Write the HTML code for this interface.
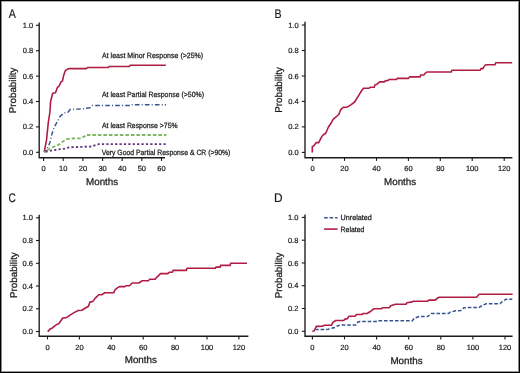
<!DOCTYPE html>
<html><head><meta charset="utf-8"><title>Figure</title>
<style>
html,body{margin:0;padding:0;background:#fff;}
body{width:520px;height:373px;overflow:hidden;}
.frame{position:absolute;left:0;top:0;width:518px;height:371px;border:1px solid #000;box-shadow:inset 1px 0 0 #888, inset 0 1px 0 #b0b0b0, inset -1px 0 0 #888, inset 0 -1px 0 #999;}
svg{position:absolute;left:0;top:0;will-change:transform;}
text{font-family:"Liberation Sans",sans-serif;fill:#1a1a1a;text-rendering:geometricPrecision;}
.tk{font-size:7.5px;stroke:#1a1a1a;stroke-width:0.2px;}
.lab{font-size:9.8px;stroke:#1a1a1a;stroke-width:0.25px;}
.leg{font-size:7.6px;stroke:#1a1a1a;stroke-width:0.25px;}
.let{font-size:12.5px;stroke:#1a1a1a;stroke-width:0.2px;}
</style></head>
<body><div class="frame"></div>
<svg width="520" height="373" viewBox="0 0 520 373">
<path d="M39.2,22.6 L39.2,157.7 L165,157.7" fill="none" stroke="#1a1a1a" stroke-width="1.35"/>
<path d="M36.0,152.3 L39.2,152.3" stroke="#1a1a1a" stroke-width="1.1"/>
<text x="33.2" y="154.8" class="tk" text-anchor="end">0.0</text>
<path d="M36.0,126.9 L39.2,126.9" stroke="#1a1a1a" stroke-width="1.1"/>
<text x="33.2" y="129.4" class="tk" text-anchor="end">0.2</text>
<path d="M36.0,101.5 L39.2,101.5" stroke="#1a1a1a" stroke-width="1.1"/>
<text x="33.2" y="104.0" class="tk" text-anchor="end">0.4</text>
<path d="M36.0,76.1 L39.2,76.1" stroke="#1a1a1a" stroke-width="1.1"/>
<text x="33.2" y="78.6" class="tk" text-anchor="end">0.6</text>
<path d="M36.0,50.7 L39.2,50.7" stroke="#1a1a1a" stroke-width="1.1"/>
<text x="33.2" y="53.2" class="tk" text-anchor="end">0.8</text>
<path d="M36.0,25.3 L39.2,25.3" stroke="#1a1a1a" stroke-width="1.1"/>
<text x="33.2" y="27.8" class="tk" text-anchor="end">1.0</text>
<path d="M43.6,157.7 L43.6,160.9" stroke="#1a1a1a" stroke-width="1.1"/>
<text x="43.6" y="171.0" class="tk" text-anchor="middle">0</text>
<path d="M63.2,157.7 L63.2,160.9" stroke="#1a1a1a" stroke-width="1.1"/>
<text x="63.2" y="171.0" class="tk" text-anchor="middle">10</text>
<path d="M82.9,157.7 L82.9,160.9" stroke="#1a1a1a" stroke-width="1.1"/>
<text x="82.9" y="171.0" class="tk" text-anchor="middle">20</text>
<path d="M102.6,157.7 L102.6,160.9" stroke="#1a1a1a" stroke-width="1.1"/>
<text x="102.6" y="171.0" class="tk" text-anchor="middle">30</text>
<path d="M122.2,157.7 L122.2,160.9" stroke="#1a1a1a" stroke-width="1.1"/>
<text x="122.2" y="171.0" class="tk" text-anchor="middle">40</text>
<path d="M141.8,157.7 L141.8,160.9" stroke="#1a1a1a" stroke-width="1.1"/>
<text x="141.8" y="171.0" class="tk" text-anchor="middle">50</text>
<path d="M161.5,157.7 L161.5,160.9" stroke="#1a1a1a" stroke-width="1.1"/>
<text x="161.5" y="171.0" class="tk" text-anchor="middle">60</text>
<text x="102.1" y="184.9" class="lab" text-anchor="middle">Months</text>
<text transform="translate(16.3,90.4) rotate(-90)" class="lab" text-anchor="middle">Probability</text>
<text transform="translate(8.8,18.2) scale(0.85,1)" class="let">A</text>
<path d="M305.0,21.7 L305.0,157.7 L512.4,157.7" fill="none" stroke="#1a1a1a" stroke-width="1.35"/>
<path d="M301.8,152.4 L305.0,152.4" stroke="#1a1a1a" stroke-width="1.1"/>
<text x="298.6" y="154.9" class="tk" text-anchor="end">0.0</text>
<path d="M301.8,126.9 L305.0,126.9" stroke="#1a1a1a" stroke-width="1.1"/>
<text x="298.6" y="129.4" class="tk" text-anchor="end">0.2</text>
<path d="M301.8,101.4 L305.0,101.4" stroke="#1a1a1a" stroke-width="1.1"/>
<text x="298.6" y="103.9" class="tk" text-anchor="end">0.4</text>
<path d="M301.8,76.0 L305.0,76.0" stroke="#1a1a1a" stroke-width="1.1"/>
<text x="298.6" y="78.5" class="tk" text-anchor="end">0.6</text>
<path d="M301.8,50.5 L305.0,50.5" stroke="#1a1a1a" stroke-width="1.1"/>
<text x="298.6" y="53.0" class="tk" text-anchor="end">0.8</text>
<path d="M301.8,25.0 L305.0,25.0" stroke="#1a1a1a" stroke-width="1.1"/>
<text x="298.6" y="27.5" class="tk" text-anchor="end">1.0</text>
<path d="M312.6,157.7 L312.6,160.9" stroke="#1a1a1a" stroke-width="1.1"/>
<text x="312.6" y="171.0" class="tk" text-anchor="middle">0</text>
<path d="M344.5,157.7 L344.5,160.9" stroke="#1a1a1a" stroke-width="1.1"/>
<text x="344.5" y="171.0" class="tk" text-anchor="middle">20</text>
<path d="M376.5,157.7 L376.5,160.9" stroke="#1a1a1a" stroke-width="1.1"/>
<text x="376.5" y="171.0" class="tk" text-anchor="middle">40</text>
<path d="M408.4,157.7 L408.4,160.9" stroke="#1a1a1a" stroke-width="1.1"/>
<text x="408.4" y="171.0" class="tk" text-anchor="middle">60</text>
<path d="M440.3,157.7 L440.3,160.9" stroke="#1a1a1a" stroke-width="1.1"/>
<text x="440.3" y="171.0" class="tk" text-anchor="middle">80</text>
<path d="M472.2,157.7 L472.2,160.9" stroke="#1a1a1a" stroke-width="1.1"/>
<text x="472.2" y="171.0" class="tk" text-anchor="middle">100</text>
<path d="M504.2,157.7 L504.2,160.9" stroke="#1a1a1a" stroke-width="1.1"/>
<text x="504.2" y="171.0" class="tk" text-anchor="middle">120</text>
<text x="400.1" y="184.7" class="lab" text-anchor="middle">Months</text>
<text transform="translate(282.2,89.9) rotate(-90)" class="lab" text-anchor="middle">Probability</text>
<text transform="translate(274.5,18.0) scale(0.85,1)" class="let">B</text>
<path d="M39.2,214.7 L39.2,336.2 L248.4,336.2" fill="none" stroke="#1a1a1a" stroke-width="1.35"/>
<path d="M36.0,331.5 L39.2,331.5" stroke="#1a1a1a" stroke-width="1.1"/>
<text x="33.0" y="334.0" class="tk" text-anchor="end">0.0</text>
<path d="M36.0,308.8 L39.2,308.8" stroke="#1a1a1a" stroke-width="1.1"/>
<text x="33.0" y="311.3" class="tk" text-anchor="end">0.2</text>
<path d="M36.0,286.0 L39.2,286.0" stroke="#1a1a1a" stroke-width="1.1"/>
<text x="33.0" y="288.5" class="tk" text-anchor="end">0.4</text>
<path d="M36.0,263.3 L39.2,263.3" stroke="#1a1a1a" stroke-width="1.1"/>
<text x="33.0" y="265.8" class="tk" text-anchor="end">0.6</text>
<path d="M36.0,240.5 L39.2,240.5" stroke="#1a1a1a" stroke-width="1.1"/>
<text x="33.0" y="243.0" class="tk" text-anchor="end">0.8</text>
<path d="M36.0,217.8 L39.2,217.8" stroke="#1a1a1a" stroke-width="1.1"/>
<text x="33.0" y="220.3" class="tk" text-anchor="end">1.0</text>
<path d="M47.5,336.2 L47.5,339.4" stroke="#1a1a1a" stroke-width="1.1"/>
<text x="47.5" y="349.6" class="tk" text-anchor="middle">0</text>
<path d="M79.4,336.2 L79.4,339.4" stroke="#1a1a1a" stroke-width="1.1"/>
<text x="79.4" y="349.6" class="tk" text-anchor="middle">20</text>
<path d="M111.3,336.2 L111.3,339.4" stroke="#1a1a1a" stroke-width="1.1"/>
<text x="111.3" y="349.6" class="tk" text-anchor="middle">40</text>
<path d="M143.2,336.2 L143.2,339.4" stroke="#1a1a1a" stroke-width="1.1"/>
<text x="143.2" y="349.6" class="tk" text-anchor="middle">60</text>
<path d="M175.1,336.2 L175.1,339.4" stroke="#1a1a1a" stroke-width="1.1"/>
<text x="175.1" y="349.6" class="tk" text-anchor="middle">80</text>
<path d="M207.0,336.2 L207.0,339.4" stroke="#1a1a1a" stroke-width="1.1"/>
<text x="207.0" y="349.6" class="tk" text-anchor="middle">100</text>
<path d="M238.9,336.2 L238.9,339.4" stroke="#1a1a1a" stroke-width="1.1"/>
<text x="238.9" y="349.6" class="tk" text-anchor="middle">120</text>
<text x="140.8" y="363.2" class="lab" text-anchor="middle">Months</text>
<text transform="translate(16.8,275.1) rotate(-90)" class="lab" text-anchor="middle">Probability</text>
<text transform="translate(8.4,201.6) scale(0.81,1)" class="let">C</text>
<path d="M305.0,214.6 L305.0,336.2 L512.6,336.2" fill="none" stroke="#1a1a1a" stroke-width="1.35"/>
<path d="M301.8,331.3 L305.0,331.3" stroke="#1a1a1a" stroke-width="1.1"/>
<text x="298.4" y="333.8" class="tk" text-anchor="end">0.0</text>
<path d="M301.8,308.5 L305.0,308.5" stroke="#1a1a1a" stroke-width="1.1"/>
<text x="298.4" y="311.0" class="tk" text-anchor="end">0.2</text>
<path d="M301.8,285.7 L305.0,285.7" stroke="#1a1a1a" stroke-width="1.1"/>
<text x="298.4" y="288.2" class="tk" text-anchor="end">0.4</text>
<path d="M301.8,263.0 L305.0,263.0" stroke="#1a1a1a" stroke-width="1.1"/>
<text x="298.4" y="265.5" class="tk" text-anchor="end">0.6</text>
<path d="M301.8,240.2 L305.0,240.2" stroke="#1a1a1a" stroke-width="1.1"/>
<text x="298.4" y="242.7" class="tk" text-anchor="end">0.8</text>
<path d="M301.8,217.4 L305.0,217.4" stroke="#1a1a1a" stroke-width="1.1"/>
<text x="298.4" y="219.9" class="tk" text-anchor="end">1.0</text>
<path d="M312.4,336.2 L312.4,339.4" stroke="#1a1a1a" stroke-width="1.1"/>
<text x="312.4" y="349.6" class="tk" text-anchor="middle">0</text>
<path d="M344.5,336.2 L344.5,339.4" stroke="#1a1a1a" stroke-width="1.1"/>
<text x="344.5" y="349.6" class="tk" text-anchor="middle">20</text>
<path d="M376.6,336.2 L376.6,339.4" stroke="#1a1a1a" stroke-width="1.1"/>
<text x="376.6" y="349.6" class="tk" text-anchor="middle">40</text>
<path d="M408.7,336.2 L408.7,339.4" stroke="#1a1a1a" stroke-width="1.1"/>
<text x="408.7" y="349.6" class="tk" text-anchor="middle">60</text>
<path d="M440.8,336.2 L440.8,339.4" stroke="#1a1a1a" stroke-width="1.1"/>
<text x="440.8" y="349.6" class="tk" text-anchor="middle">80</text>
<path d="M472.9,336.2 L472.9,339.4" stroke="#1a1a1a" stroke-width="1.1"/>
<text x="472.9" y="349.6" class="tk" text-anchor="middle">100</text>
<path d="M505.0,336.2 L505.0,339.4" stroke="#1a1a1a" stroke-width="1.1"/>
<text x="505.0" y="349.6" class="tk" text-anchor="middle">120</text>
<text x="406.5" y="363.5" class="lab" text-anchor="middle">Months</text>
<text transform="translate(282.4,275.4) rotate(-90)" class="lab" text-anchor="middle">Probability</text>
<text transform="translate(273.9,201.5) scale(0.95,1)" class="let">D</text>
<path d="M44.2,152.2 L46.5,140.2 L48.2,123.3 L49.9,112.0 L50.6,101.5 L52.7,93.2 L55.5,92.7 L57.2,87.9 L59.3,85.7 L60.9,82.0 L62.5,80.9 L63.8,74.9 L65.3,70.7 L68.5,68.6 L86.4,68.6 L87.5,67.5 L108.2,67.5 L109.1,66.5 L129.4,66.5 L130.2,65.2 L165.8,65.2" fill="none" stroke="#b01c44" stroke-width="1.6" stroke-linejoin="round"/>
<path d="M44.2,152.2 L46.5,150.3 L49.9,142.5 L52.1,133.4 L54.4,126.7 L57.8,121.0 L60.0,116.5 L63.9,113.0 L68.2,112.1 L70.0,109.5 L79.5,109.0 L83.0,108.7 L89.9,107.8 L92.5,105.5 L131.5,105.5 L132.3,104.7 L166.0,104.7" fill="none" stroke="#34528e" stroke-width="1.4" stroke-dasharray="4.6 2.2 1 2.2" stroke-dashoffset="1.43"/>
<path d="M44.2,152.2 L47.6,149.8 L53.3,147.0 L58.9,144.7 L62.3,141.9 L66.8,139.1 L72.0,138.5 L80.9,138.4 L85.0,136.0 L85.5,135.0 L166.4,135.0" fill="none" stroke="#7fb760" stroke-width="1.8" stroke-dasharray="3.5 2" stroke-dashoffset="1.83"/>
<path d="M44.2,152.2 L46.5,151.5 L52.1,150.3 L64.6,148.7 L69.6,147.3 L91.4,146.5 L98.6,144.2 L166.4,144.2" fill="none" stroke="#62307f" stroke-width="1.8" stroke-dasharray="2.2 2.2" stroke-dashoffset="3.0"/>
<text x="102" y="57.6" class="leg" textLength="101.2" lengthAdjust="spacingAndGlyphs">At least Minor Response (&gt;25%)</text>
<text x="102" y="97.1" class="leg" textLength="102" lengthAdjust="spacingAndGlyphs">At least Partial Response (&gt;50%)</text>
<text x="102" y="128.3" class="leg" textLength="75.6" lengthAdjust="spacingAndGlyphs">At least Response &gt;75%</text>
<text x="101.8" y="154.8" class="leg" textLength="128.6" lengthAdjust="spacingAndGlyphs">Very Good Partial Response &amp; CR (&gt;90%)</text>
<path d="M312.3,152.4 L312.3,146.6 L313.8,145.8 L316.3,142.6 L318.7,142.6 L321.1,137.8 L322.7,135.4 L325.9,133.0 L328.3,127.3 L331.5,122.5 L333.1,119.3 L338.8,114.5 L340.7,109.7 L343.6,107.2 L347.1,107.2 L350.8,104.8 L354.7,102.0 L358.1,96.3 L361.4,91.0 L363.5,88.3 L368.8,88.3 L370.2,87.3 L374.2,87.3 L374.9,84.9 L376.9,84.2 L379.6,81.9 L384.3,81.9 L385.3,80.9 L388.4,80.2 L389.3,79.5 L396.4,79.5 L397.4,78.4 L408.5,78.4 L409.5,76.9 L420.2,76.9 L420.6,75.0 L423.8,75.0 L424.8,73.7 L426.9,72.0 L451.3,72.0 L451.9,70.3 L480.2,70.3 L480.9,68.6 L483.0,68.6 L484.0,66.5 L485.7,64.8 L495.0,64.8 L495.7,62.7 L512.2,62.7" fill="none" stroke="#b01c44" stroke-width="1.6" stroke-linejoin="round"/>
<path d="M47.7,331.6 L50.2,328.9 L52.4,327.9 L56.1,324.9 L59.0,323.5 L62.7,318.0 L66.4,317.6 L70.8,314.6 L74.5,312.4 L78.2,310.5 L81.8,310.2 L85.5,308.0 L88.5,306.2 L89.9,302.1 L92.9,301.4 L95.1,298.4 L98.8,294.7 L101.7,294.7 L104.7,292.8 L113.8,292.8 L114.7,290.1 L116.7,288.4 L119.4,286.6 L124.8,286.6 L126.2,285.7 L129.5,285.7 L132.2,283.0 L138.9,283.0 L142.3,280.7 L148.4,280.7 L149.7,279.3 L155.1,279.3 L156.4,277.6 L158.5,275.6 L160.5,273.6 L167.9,273.6 L169.2,272.2 L172.3,272.2 L173.1,270.4 L186.4,270.4 L187.0,268.3 L215.3,268.3 L215.9,267.1 L220.2,267.1 L220.5,265.4 L230.2,265.4 L230.6,263.2 L247.0,263.2" fill="none" stroke="#b01c44" stroke-width="1.6" stroke-linejoin="round"/>
<path d="M316.2,330.0 L316.7,329.6 L326.5,329.6 L328.2,329.3 L331.6,328.3 L334.9,327.6 L336.9,326.2 L340.3,324.9 L355.8,324.9 L357.8,322.2 L359.8,321.6 L376.9,321.6 L378.5,320.7 L412.3,320.7 L414.6,318.1 L419.2,316.5 L427.7,316.5 L431.5,313.5 L448.5,313.5 L450.0,312.3 L455.4,310.8 L460.8,310.5 L463.8,307.7 L479.2,307.4 L482.3,305.4 L486.2,303.8 L500.0,303.8 L502.3,301.5 L506.2,299.2 L512.3,299.2" fill="none" stroke="#34528e" stroke-width="1.5" stroke-dasharray="3.6 1.9" stroke-dashoffset="0.95"/>
<path d="M312.4,331.5 L314.2,330.8 L316.3,326.4 L322.8,326.2 L323.9,325.3 L331.4,325.3 L332.9,322.4 L335.6,320.5 L343.7,320.5 L345.0,319.1 L347.3,318.6 L349.0,316.2 L355.1,316.2 L356.5,314.5 L361.8,314.5 L363.2,313.5 L367.2,313.5 L369.9,311.8 L373.8,308.8 L381.5,308.8 L382.3,307.8 L389.2,307.8 L390.8,305.8 L393.1,305.0 L395.4,304.2 L406.2,304.2 L406.9,302.7 L412.3,301.9 L413.1,301.2 L427.7,301.2 L428.5,300.1 L435.4,300.1 L436.9,298.5 L439.2,297.2 L476.6,297.2 L479.2,294.2 L512.6,294.2" fill="none" stroke="#b01c44" stroke-width="1.6" stroke-linejoin="round"/>
<path d="M324.1,217.7 L337.5,217.7" stroke="#34528e" stroke-width="1.6" stroke-dasharray="3.6 1.9"/>
<path d="M324.1,229.1 L337.5,229.1" stroke="#b01c44" stroke-width="1.6"/>
<text x="340.6" y="220.2" class="leg" textLength="31.2" lengthAdjust="spacingAndGlyphs">Unrelated</text>
<text x="340.6" y="231.7" class="leg" textLength="23.8" lengthAdjust="spacingAndGlyphs">Related</text>
</svg>
</body></html>
